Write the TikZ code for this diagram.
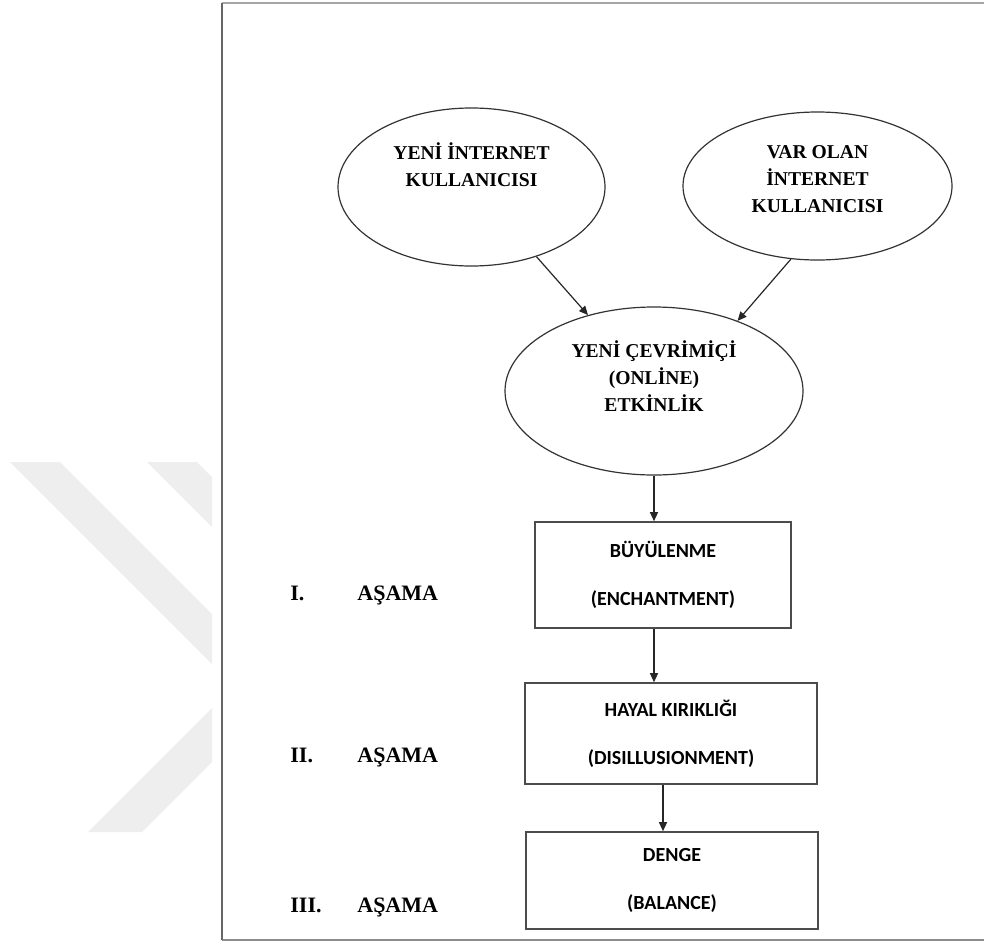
\documentclass[tikz,border=0pt]{standalone}
\usepackage{fontspec}
\setmainfont{Liberation Serif}
\newfontfamily\calibri{Carlito}
\usetikzlibrary{arrows.meta, shapes.geometric, calc}

\begin{document}
\begin{tikzpicture}[x=0.5pt, y=-0.5pt,
  bubble/.style={ellipse, draw=black!80, line width=0.6pt, inner sep=0pt},
  btxt/.style={font=\fontsize{9.8}{13.5}\selectfont\bfseries, align=center,
               inner sep=0pt},
  box/.style={rectangle, draw=black!70, line width=0.8pt, align=center,
              inner sep=0pt, font=\calibri\fontsize{10}{24}\selectfont\bfseries},
  stg/.style={anchor=base west, inner sep=0pt,
              font=\fontsize{11}{13}\selectfont\bfseries},
  wmark/.style={fill=gray!13, draw=none},
  arr/.style={-{Triangle[length=4.5pt, width=4pt]}, line width=0.6pt, black!85}
]
\useasboundingbox (0,0) rectangle (984,942);
%% Watermark
\fill[wmark] (10,462) -- (60,462) -- (212,614) -- (212,664) -- cycle;
\fill[wmark] (147,462) -- (197,462) -- (212,477) -- (212,527) -- cycle;
\fill[wmark] (88,832) -- (142,832) -- (212,762) -- (212,708) -- cycle;
%% Frame
\draw[line width=1.2pt, black!35] (222,3) -- (984,3);
\draw[line width=1pt, black!45] (222,940) -- (984,940);
\draw[line width=1pt, black!60] (222,3) -- (222,940);
%% Users
\node[bubble, minimum width=133.5pt, minimum height=79pt,
      label={[btxt, yshift=11pt]center:YENİ İNTERNET\\KULLANICISI}]
      (yi) at (471.5,187) {};
\node[bubble, minimum width=134.5pt, minimum height=74pt,
      label={[btxt, yshift=3.5pt]center:VAR OLAN\\İNTERNET\\KULLANICISI}]
      (vo) at (817.5,186) {};
%% Online activity
\node[bubble, minimum width=149pt, minimum height=84pt,
      label={[btxt, yshift=7.5pt]center:YENİ ÇEVRİMİÇİ\\(ONLİNE)\\ETKİNLİK}]
      (yc) at (654,391) {};
%% Stages
\node[box, minimum width=128pt, minimum height=53pt] (b1) at (663,575)
      {BÜYÜLENME\\(ENCHANTMENT)};
\node[box, minimum width=146pt, minimum height=50.5pt] (b2) at (671,733.5)
      {HAYAL KIRIKLIĞI\\(DISILLUSIONMENT)};
\node[box, minimum width=146pt, minimum height=48.5pt] (b3) at (672,880.5)
      {DENGE\\(BALANCE)};
%% Stage labels
\node[stg] (s1) at (290,600.5) {\makebox[33.5pt][l]{I.}AŞAMA};
\node[stg] (s2) at (290,762) {\makebox[33.5pt][l]{II.}AŞAMA};
\node[stg] (s3) at (290,912.5) {\makebox[33.5pt][l]{III.}AŞAMA};
%% Arrows
\draw[arr] (yi.-47) -- (yc.131);
\draw[arr] (vo.250) -- (yc.40);
\draw[arr] (yc.south) -- (yc.south |- b1.north);
\draw[arr] (b1.south -| yc.south) -- (b2.north -| yc.south);
\draw[arr] (b2.south -| b1.south) -- (b3.north -| b1.south);
\end{tikzpicture}
\end{document}
